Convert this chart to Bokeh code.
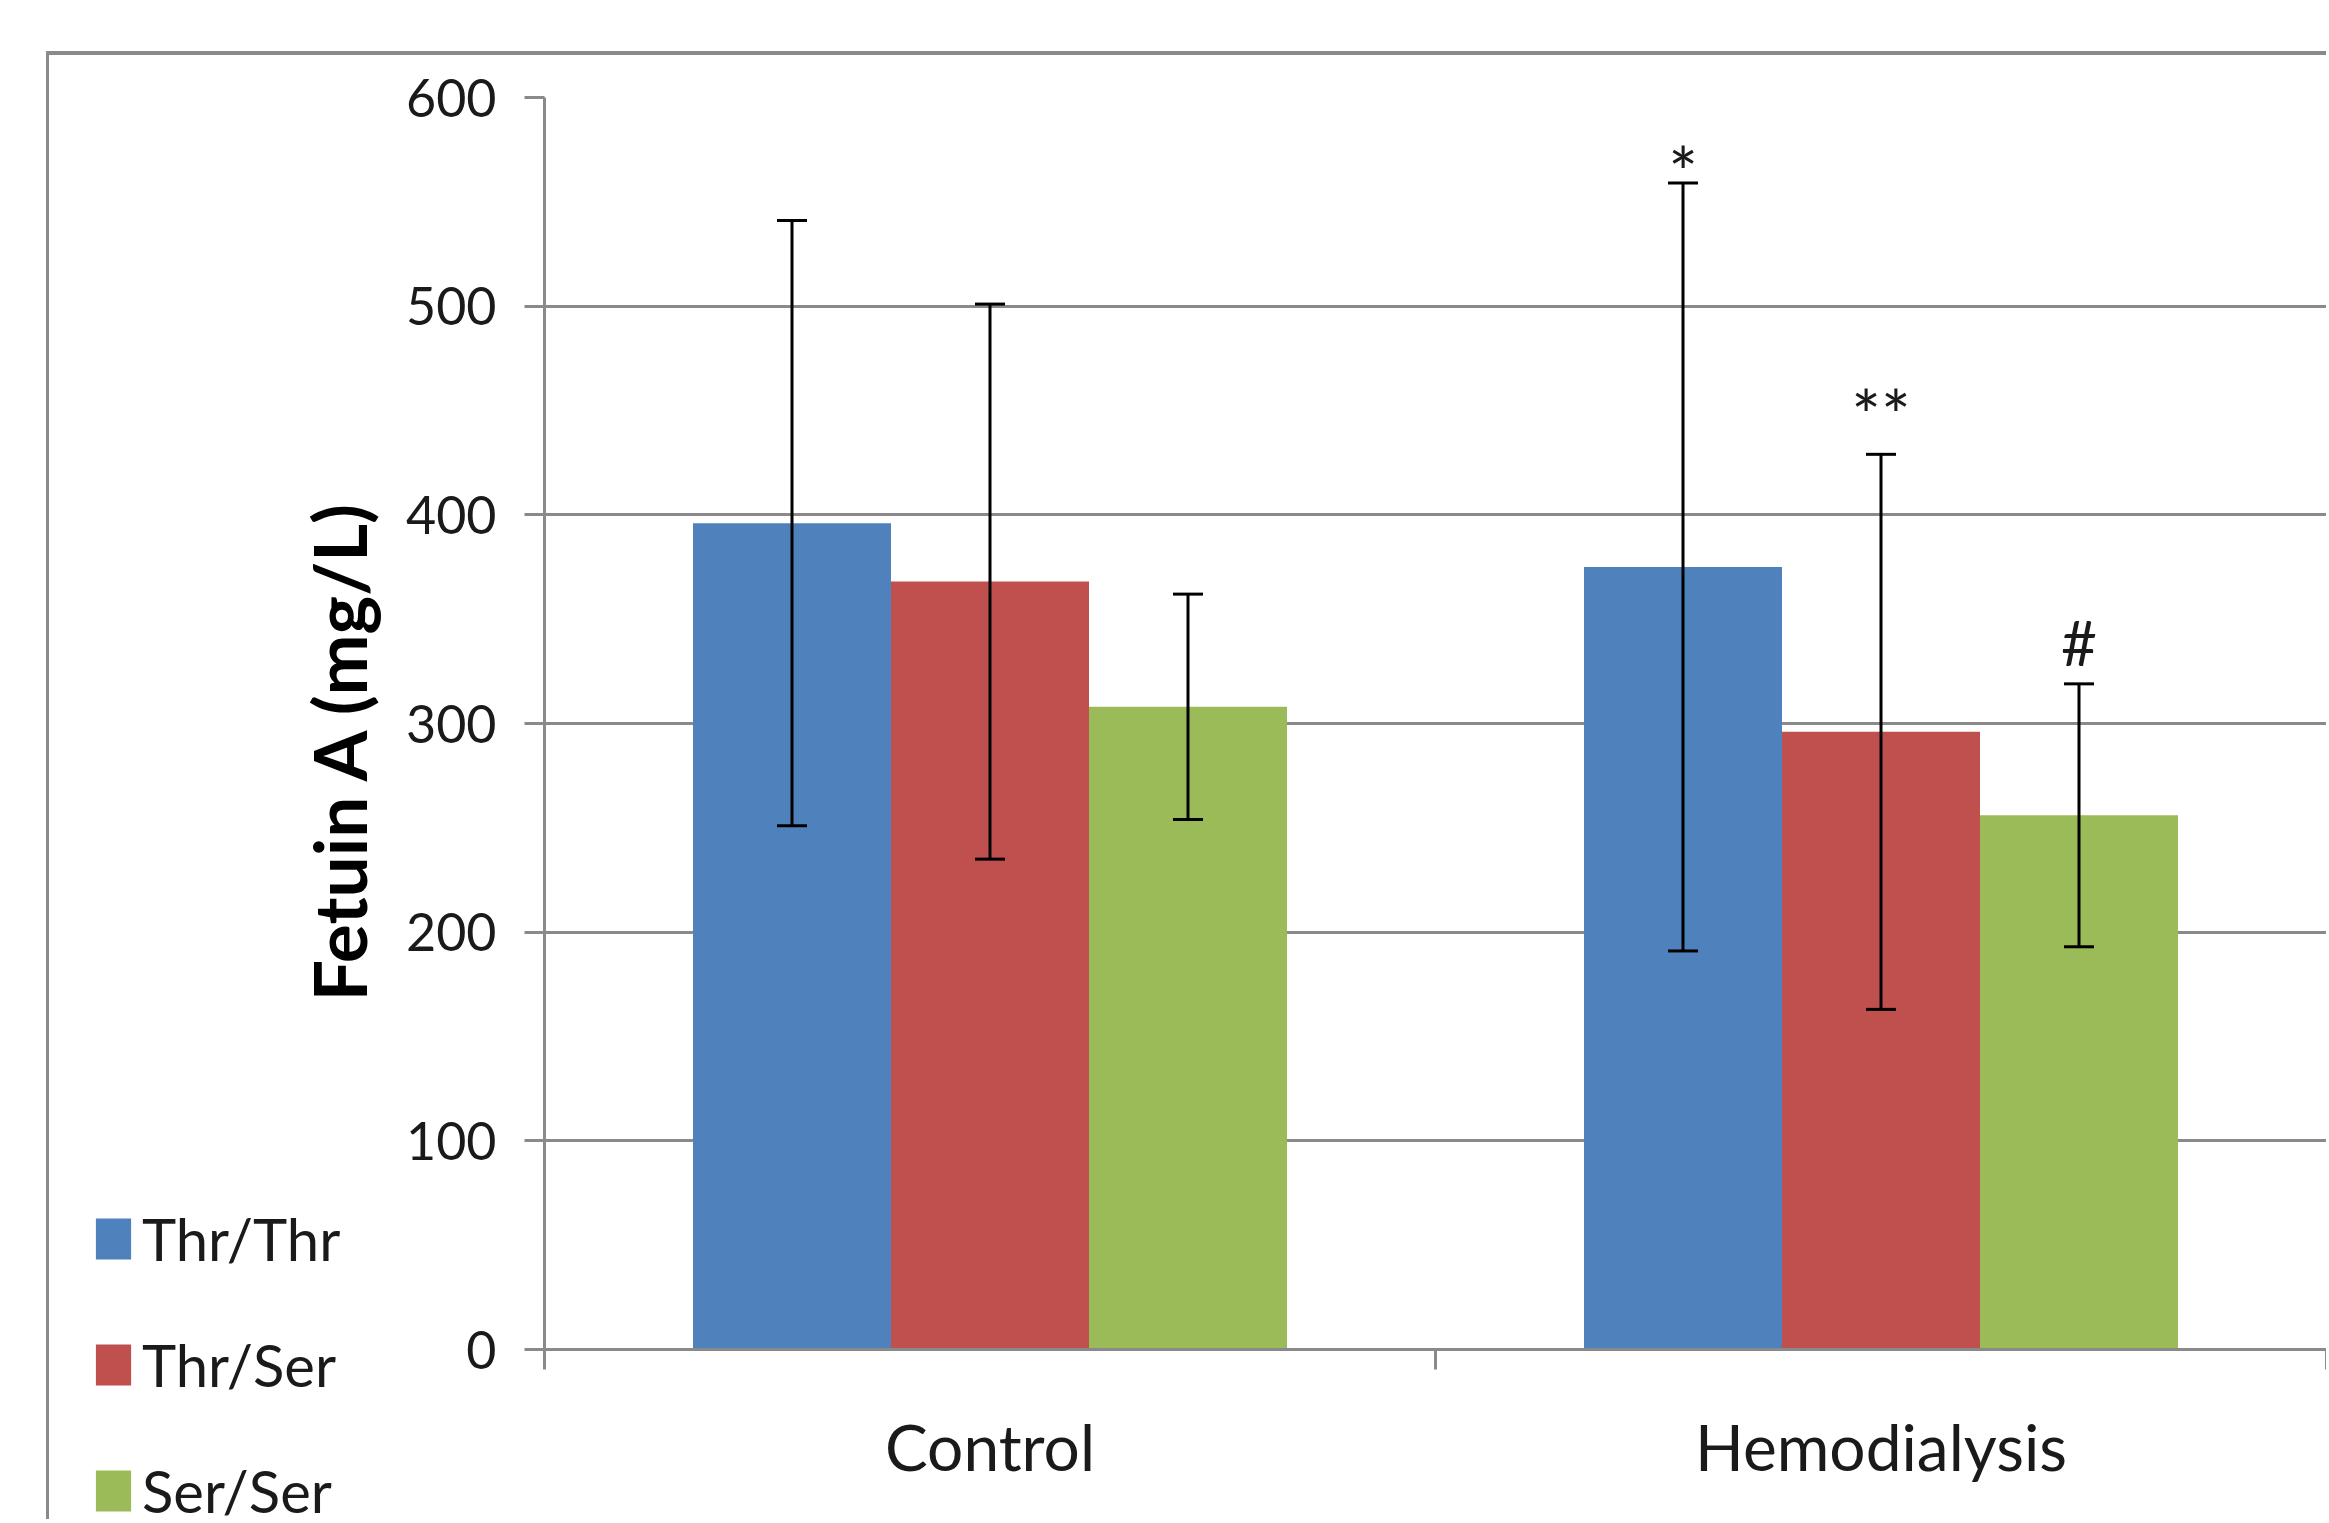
import numpy as np
from bokeh.plotting import figure
from bokeh.layouts import row
from bokeh.models import (ColumnDataSource, Range1d, FixedTicker, Whisker, TeeHead,
                          Legend, LegendItem)
from bokeh.core.properties import value
from bokeh.embed import file_html
from bokeh.resources import INLINE

# ---------------- data ----------------
categories = ["Control", "Hemodialysis"]
series_names = ["Thr/Thr", "Thr/Ser", "Ser/Ser"]
thr_thr_mean = [396, 375]
thr_ser_mean = [368, 296]
ser_ser_mean = [308, 256]
thr_thr_sd = [145, 184]
thr_ser_sd = [133, 133]
ser_ser_sd = [54, 63]
hemo_marks = ["*", "**", "#"]          # significance marks over the Hemodialysis bars
y_ticks = [0, 100, 200, 300, 400, 500, 600]

means = [thr_thr_mean, thr_ser_mean, ser_ser_mean]
sds = [thr_thr_sd, thr_ser_sd, ser_ser_sd]

# ---------------- style ----------------
FONT = "Lato"
COLORS = ["#4F81BD", "#C0504D", "#9BBB59"]
GRAY = "#8a8a8a"
TEXT = "#1a1a1a"
BAR_W = 1 / 4.5                      # Excel gap width 150 %
OFFSETS = [-BAR_W, 0.0, BAR_W]
MARK_YOFF = [-12, -40, -42]          # pixel offsets of the marks above the error caps
MARK_SIZE = ["70px", "70px", "62px"]

H = 1468
LEFT_MARGIN = 46
BORDER_L = 3
LEG_W = 800                           # strip holding the legend (under the main chart's transparent border)
MAIN_X0 = 269                         # page x where the main chart begins
PLOT_X0 = 546.6                       # page x of the value axis

base_x = np.arange(len(categories)) + 0.5
sources = []
for i in range(len(series_names)):
    m = np.array(means[i], dtype=float)
    s = np.array(sds[i], dtype=float)
    sources.append(ColumnDataSource(dict(x=base_x + OFFSETS[i], top=m, upper=m + s, lower=m - s)))

# ---------------- legend strip ----------------
leg_fig = figure(width=LEG_W, height=H, output_backend="svg", toolbar_location=None,
                 x_range=Range1d(100, 101), y_range=Range1d(0, 600),
                 x_axis_location=None, y_axis_location=None, min_border=0)
leg_fig.outline_line_color = None
leg_fig.xgrid.visible = False
leg_fig.ygrid.visible = False
leg_fig.margin = (51, 0, 0, LEFT_MARGIN)
leg_fig.styles = {"border-top": f"4px solid {GRAY}", "border-left": f"{BORDER_L}px solid {GRAY}"}
leg_renderers = [leg_fig.vbar(x="x", top="top", bottom=0, width=BAR_W, source=sources[i],
                              fill_color=COLORS[i], line_color=None)
                 for i in range(len(series_names))]
legend = Legend(items=[LegendItem(label=n, renderers=[r]) for n, r in zip(series_names, leg_renderers)],
                location=(42, -176), orientation="vertical",
                glyph_width=44, glyph_height=51, label_height=41, label_standoff=7,
                spacing=57, padding=0, margin=0,
                border_line_color=None, background_fill_alpha=0,
                label_text_font=FONT, label_text_font_size="58px", label_text_color=TEXT)
leg_fig.add_layout(legend, "left")

# ---------------- main chart ----------------
p = figure(width=2329 - MAIN_X0, height=H, output_backend="svg", toolbar_location=None,
           x_range=Range1d(0, len(categories)), y_range=Range1d(0, 600),
           min_border_left=int(round(PLOT_X0 - MAIN_X0)),
           min_border_top=42, min_border_bottom=174, min_border_right=0)
p.outline_line_color = None
p.border_fill_alpha = 0
p.margin = (51, 0, 0, MAIN_X0 - (LEFT_MARGIN + BORDER_L + LEG_W))
p.styles = {"border-top": f"4px solid {GRAY}"}

for i, name in enumerate(series_names):
    src = sources[i]
    p.vbar(x="x", top="top", bottom=0, width=BAR_W, source=src,
           fill_color=COLORS[i], line_color=None)
    w = Whisker(source=src, base="x", upper="upper", lower="lower",
                line_color="black", line_width=3, level="overlay",
                upper_head=TeeHead(size=30, line_width=3, line_color="black"),
                lower_head=TeeHead(size=30, line_width=3, line_color="black"))
    p.add_layout(w)

# significance marks on the Hemodialysis group
hemo_idx = categories.index("Hemodialysis")
mark_src = ColumnDataSource(dict(
    x=[base_x[hemo_idx] + OFFSETS[i] for i in range(len(series_names))],
    y=[means[i][hemo_idx] + sds[i][hemo_idx] for i in range(len(series_names))],
    text=hemo_marks,
    yoff=MARK_YOFF,
    fs=MARK_SIZE,
))
p.text(x="x", y="y", text="text", y_offset="yoff", source=mark_src,
       text_align="center", text_baseline="middle",
       text_font=value(FONT), text_font_size="fs", text_color=TEXT)

# grid
p.xgrid.visible = False
p.ygrid.ticker = FixedTicker(ticks=y_ticks)
p.ygrid.grid_line_color = GRAY
p.ygrid.grid_line_width = 3

# y axis
ya = p.yaxis[0]
ya.ticker = FixedTicker(ticks=y_ticks)
ya.axis_line_color = GRAY
ya.axis_line_width = 3
ya.major_tick_line_color = GRAY
ya.major_tick_line_width = 3
ya.major_tick_out = 20
ya.major_tick_in = 0
ya.minor_tick_line_color = None
ya.major_label_standoff = 28
ya.major_label_text_font = FONT
ya.major_label_text_font_size = "52px"
ya.major_label_text_color = TEXT
ya.axis_label = "Fetuin A (mg/L)\u00a0\u00a0\u00a0"
ya.axis_label_text_font = FONT
ya.axis_label_text_font_style = "bold"
ya.axis_label_text_font_size = "73px"
ya.axis_label_text_color = "black"
ya.axis_label_standoff = 20

# x axis: labels at category centres, tick marks at category borders
xa = p.xaxis[0]
xa.ticker = FixedTicker(ticks=list(base_x), minor_ticks=list(range(len(categories) + 1)))
xa.major_label_overrides = {float(b): c for b, c in zip(base_x, categories)}
xa.axis_line_color = GRAY
xa.axis_line_width = 3
xa.major_tick_line_color = None
xa.major_tick_out = 20
xa.major_tick_in = 0
xa.minor_tick_line_color = GRAY
xa.minor_tick_line_width = 3
xa.minor_tick_out = 20
xa.minor_tick_in = 0
xa.major_label_standoff = 38
xa.major_label_text_font = FONT
xa.major_label_text_font_size = "64px"
xa.major_label_text_color = TEXT

layout = row(leg_fig, p)
open("out.html", "w").write(file_html(layout, INLINE))
